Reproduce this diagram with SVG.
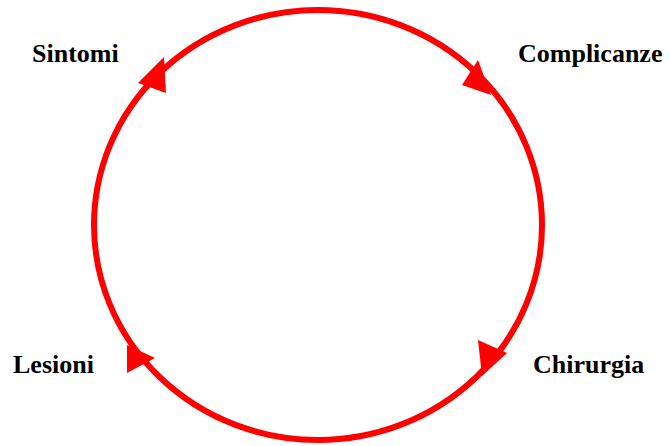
<svg xmlns="http://www.w3.org/2000/svg" width="670" height="446" viewBox="0 0 670 446">
<style>
.lbl{font-family:"Liberation Serif","Times New Roman",serif;font-weight:bold;font-size:26px;fill:#000}
.ring{fill:none;stroke:#ff0000;stroke-width:6}
.head{fill:#ff0000;stroke:none}
</style>
<rect width="670" height="446" fill="#fff"/>
<g id="connectors">
<ellipse class="ring" cx="318" cy="225" rx="224" ry="215"/>
<polygon class="head" points="138,83 166,93 164,57"/>
<polygon class="head" points="462,85 478,60 491,95"/>
<polygon class="head" points="478,340 507,353 482,376"/>
<polygon class="head" points="127,373 155,358 127,345"/>
</g>
<g id="sintomi"><text class="lbl" x="32" y="62">Sintomi</text></g>
<g id="complicanze"><text class="lbl" x="518" y="62">Complicanze</text></g>
<g id="chirurgia"><text class="lbl" x="533" y="373">Chirurgia</text></g>
<g id="lesioni"><text class="lbl" x="13" y="373">Lesioni</text></g>
</svg>
